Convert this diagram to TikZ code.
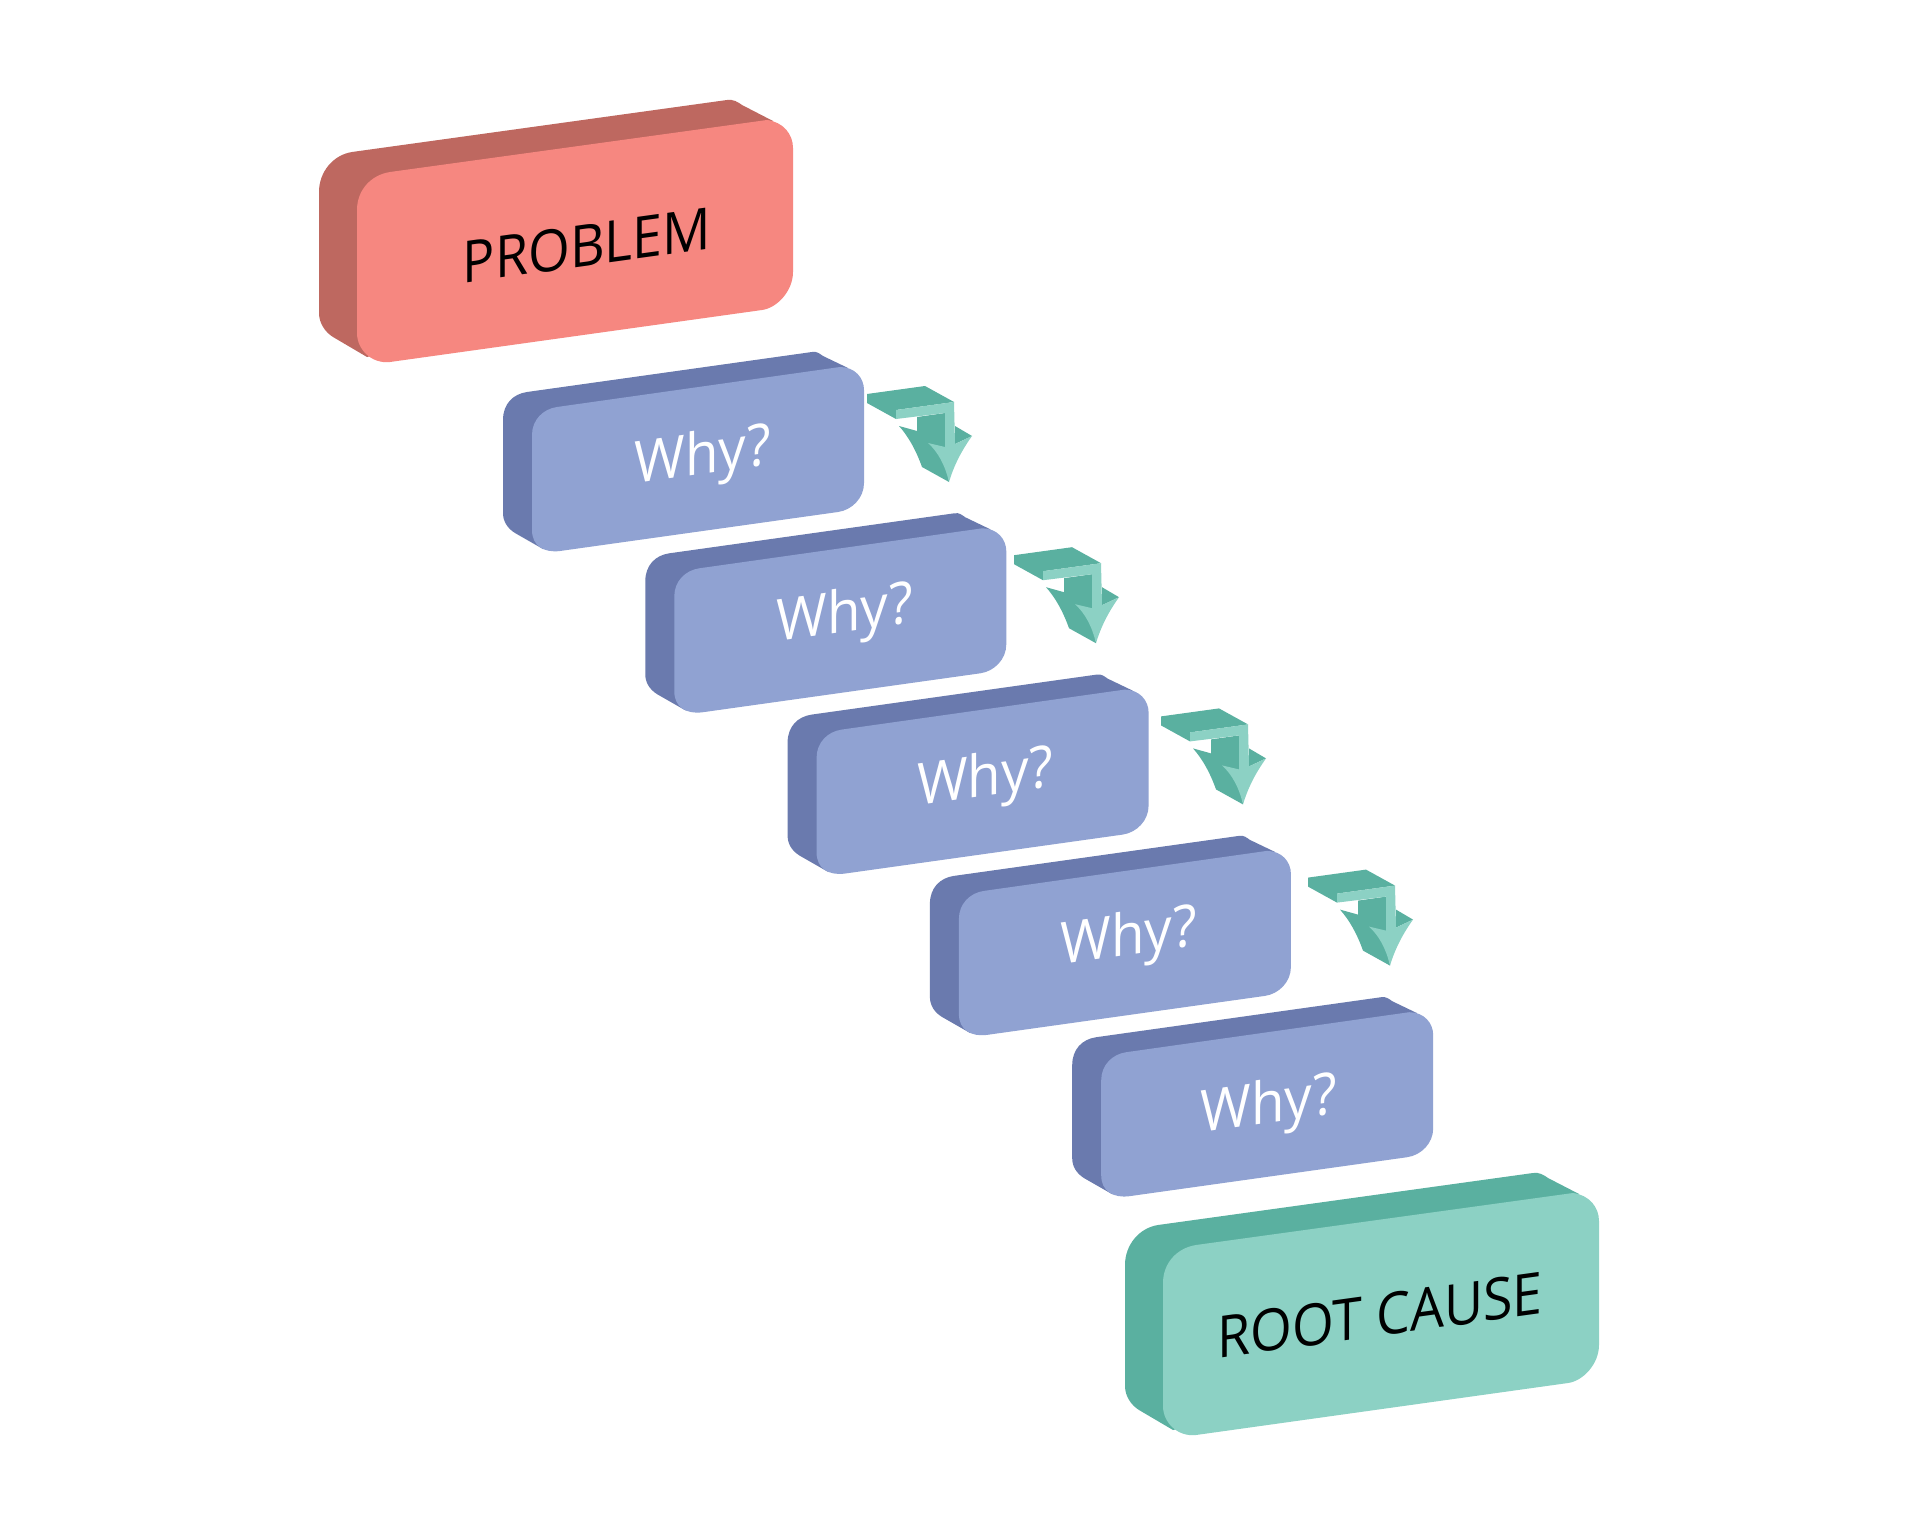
\documentclass[tikz,border=0pt]{standalone}
\usepackage{fontspec}
\setmainfont{Open Sans}
\definecolor{redface}{HTML}{F68780}
\definecolor{redside}{HTML}{BE6860}
\definecolor{blueface}{HTML}{90A2D2}
\definecolor{blueside}{HTML}{6A7AAE}
\definecolor{tealface}{HTML}{8CD1C4}
\definecolor{tealside}{HTML}{5AB0A0}
\tikzset{
  skewlabel/.style={anchor=base,inner sep=0pt,shift={(#1)},yslant=0.138,transform shape},
  biglabel/.style={skewlabel={#1},xscale=0.925,text=black,font=\fontsize{58}{60}\selectfont},
  whylabel/.style={skewlabel={#1},xscale=0.94,text=white,font=\fontsize{58}{60}\selectfont}
}
\newcommand{\bigblock}[3]{% shift, side colour, face colour
  \begin{scope}[shift={(#1)}]
    \fill[#2] (319,192) .. controls (319,172) and (333,155) .. (352,152) -- (727,100)
      .. controls (733,99) and (738,102) .. (742,105) -- (773,121) -- (773,250) -- (367,357)
      -- (333,337) .. controls (325,332) and (319,323) .. (319,313) -- cycle;
    \fill[#3] (357,210) .. controls (357,190) and (371,175) .. (390,172) -- (767,120)
      .. controls (783,122) and (793,134) .. (793,148) -- (793,272)
      .. controls (793,291) and (777,308) .. (762,310) -- (390,362)
      .. controls (372,364) and (357,350) .. (357,333) -- cycle;
  \end{scope}}
\newcommand{\whyblock}[1]{%
  \begin{scope}[shift={(#1)}]
    \fill[blueside] (503,420) .. controls (503,404) and (513,394) .. (527,392) -- (812,352)
      .. controls (817,351) and (820,354) .. (823,356) -- (848,368) -- (848,450) -- (543,549)
      -- (515,533) .. controls (507,528) and (503,521) .. (503,513) -- cycle;
    \fill[blueface] (532,435) .. controls (532,420) and (543,409) .. (557,407) -- (840,367)
      .. controls (855,367) and (864,378) .. (864,390) -- (864,483)
      .. controls (864,498) and (852,510) .. (838,512) -- (560,551)
      .. controls (544,553) and (532,546) .. (532,530) -- cycle;
  \end{scope}}
\newcommand{\downarrowshape}[1]{%
  \begin{scope}[shift={(#1)}]
    \fill[tealside] (867,394) -- (925,386) -- (954,402) -- (896,410) -- (896,419) -- (867,403) -- cycle;
    \fill[tealside] (917,417) -- (945,413) -- (945,447) -- (949,482) -- (922,467)
      .. controls (916,450) and (908,436) .. (899,426) -- (917,431) -- cycle;
    \fill[tealside] (955,426) -- (972,436) -- (955,444) -- cycle;
    \fill[tealface] (896,410) -- (954,402) -- (955,444) -- (972,436)
      .. controls (962,450) and (954,465) .. (949,482)
      .. controls (945,465) and (938,452) .. (928,443) -- (945,447) -- (945,413) -- (896,419) -- cycle;
  \end{scope}}
\begin{document}
\begin{tikzpicture}[x=1pt,y=-1pt]
  \useasboundingbox (0,0) rectangle (1920,1536);
  \fill[white] (0,0) rectangle (1920,1536);

  \bigblock{0,0}{redside}{redface}
  \bigblock{806,1073}{tealside}{tealface}

  \whyblock{0,0}
  \whyblock{142.3,161.3}
  \whyblock{284.6,322.6}
  \whyblock{426.9,483.9}
  \whyblock{569.2,645.2}

  \downarrowshape{0,0}
  \downarrowshape{147,161.2}
  \downarrowshape{294,322.4}
  \downarrowshape{441,483.6}

  \node[biglabel={587,266}] (problem) at (0,0) {PROBLEM};
  \node[biglabel={1380,1336}] (rootcause) at (0,0) {ROOT CAUSE};
  \node[whylabel={702.5,474}] (whya) at (0,0) {Why?};
  \node[whylabel={844.5,632}] (whyb) at (0,0) {Why?};
  \node[whylabel={985,796}] (whyc) at (0,0) {Why?};
  \node[whylabel={1128.5,955}] (whyd) at (0,0) {Why?};
  \node[whylabel={1268.5,1123}] (whye) at (0,0) {Why?};
\end{tikzpicture}
\end{document}
